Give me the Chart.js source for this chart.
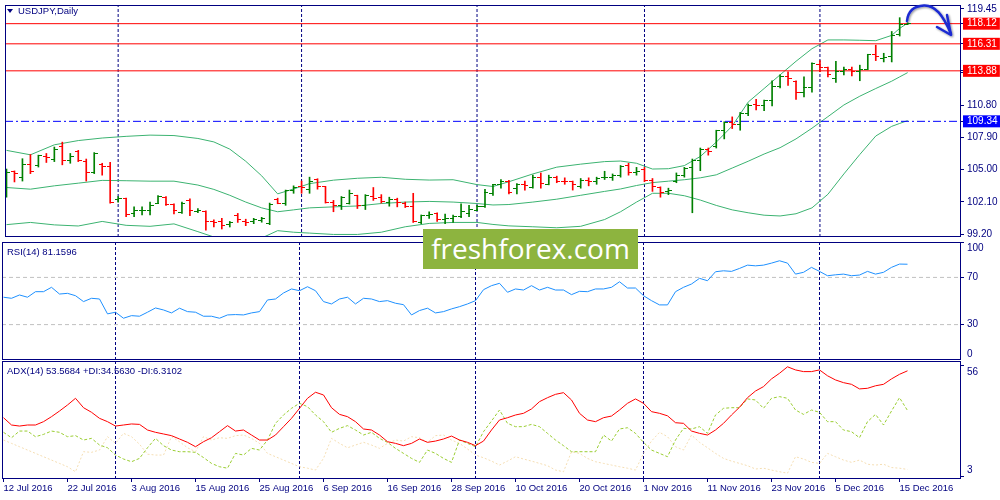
<!DOCTYPE html>
<html>
<head>
<meta charset="utf-8">
<script src="https://cdn.jsdelivr.net/npm/chart.js@4.4.1/dist/chart.umd.min.js"></script>
<style>
html,body{margin:0;padding:0;background:#fff;}
#wrap{position:relative;width:1000px;height:500px;overflow:hidden;background:#fff;}
#wrap canvas{position:absolute;left:0;}
.lbl{position:absolute;font-family:"Liberation Sans",Arial,sans-serif;font-size:9.5px;line-height:11px;color:#000080;white-space:nowrap;}
.tri{display:inline-block;width:0;height:0;border-left:3.5px solid transparent;border-right:3.5px solid transparent;border-top:4px solid #000080;margin-right:5px;vertical-align:1px;}
#logo{position:absolute;left:423px;top:229px;width:215px;height:40px;background:#8db43f;color:#fff;font-family:"Open Sans",sans-serif;font-size:28px;line-height:38px;text-align:center;letter-spacing:0px;}
#arrow{position:absolute;left:0;top:0;pointer-events:none;}
</style>
</head>
<body>
<div id="wrap">
  <canvas id="cMain" width="1000" height="242" style="top:0px"></canvas>
  <canvas id="cRsi" width="1000" height="118" style="top:242px"></canvas>
  <canvas id="cAdx" width="1000" height="140" style="top:360px"></canvas>
  <div class="lbl" style="left:7px;top:5px"><span class="tri"></span>USDJPY,Daily</div>
  <div class="lbl" style="left:7px;top:246px">RSI(14) 81.1596</div>
  <div class="lbl" style="left:7px;top:365px">ADX(14) 53.5684 +DI:34.5630 -DI:6.3102</div>
  <div id="logo">freshforex.com</div>
  <svg id="arrow" width="1000" height="500">
    <defs>
      <filter id="sh" x="-30%" y="-30%" width="160%" height="160%">
        <feGaussianBlur in="SourceAlpha" stdDeviation="1.3"/>
        <feOffset dx="1" dy="1" result="b"/>
        <feComponentTransfer><feFuncA type="linear" slope="0.45"/></feComponentTransfer>
        <feMerge><feMergeNode/><feMergeNode in="SourceGraphic"/></feMerge>
      </filter>
    </defs>
    <g fill="none" stroke="#1b2bd2" stroke-width="2.5" stroke-linecap="round" stroke-linejoin="round" filter="url(#sh)">
      <path d="M907 21 C908 11 914 6 924 5.5 C935 5 943 15 951 34"/>
      <path d="M937 27 L951 35 L947 15"/>
    </g>
  </svg>
</div>
<script>
// ---------------- data ----------------
const dateLabels = ["12 Jul 2016","22 Jul 2016","3 Aug 2016","15 Aug 2016","25 Aug 2016","6 Sep 2016","16 Sep 2016","28 Sep 2016","10 Oct 2016","20 Oct 2016","1 Nov 2016","11 Nov 2016","23 Nov 2016","5 Dec 2016","15 Dec 2016"];
const dateTickBars = [0,8,16,24,32,40,48,56,64,72,80,88,96,104,112];
const monthStartBars = [14,37,59,80,102];

const open = [103.22,104.85,104.26,105.43,105.37,106.16,105.95,107.12,105.86,106.64,
105.77,104.70,105.49,105.29,102.28,102.43,101.06,101.30,101.30,101.99,
102.46,101.85,101.12,102.23,101.27,101.21,100.34,100.34,100.05,100.89,
100.34,100.34,100.42,100.14,102.28,101.93,103.16,103.45,103.24,104.11,
103.45,102.08,101.79,101.93,102.67,101.79,102.58,102.52,102.08,102.28,
101.99,101.71,100.25,100.83,101.06,100.49,100.62,100.77,101.06,101.36,
101.65,102.87,103.68,103.91,103.33,103.63,103.39,104.26,103.68,104.32,
103.91,103.89,103.45,104.03,103.91,104.26,104.26,104.50,105.37,104.70,
104.99,104.03,103.39,103.04,103.91,104.50,105.20,105.86,106.82,107.06,
108.48,109.26,109.06,110.08,110.81,110.72,111.19,112.47,113.34,112.93,
111.97,112.35,114.45,114.15,113.23,113.80,114.01,113.86,114.01,115.37,
114.97,115.17,117.18,118.08];
const high = [105.05,104.88,105.98,106.36,106.30,106.45,107.03,107.47,106.45,106.73,
105.95,106.53,105.57,105.66,102.58,102.45,101.65,101.65,102.08,102.67,
102.58,101.93,102.08,102.37,101.50,101.30,100.49,100.62,100.34,101.06,
100.54,100.62,100.71,101.99,102.43,103.16,103.54,103.97,104.32,104.18,
103.48,102.23,102.58,103.16,102.70,102.75,103.39,102.75,102.52,102.43,
102.08,102.87,100.92,101.21,101.12,101.01,100.92,101.93,101.79,101.79,
103.22,103.68,104.11,104.03,103.74,103.97,104.50,104.70,104.50,104.41,
104.26,103.97,104.20,104.26,104.32,104.85,104.61,105.37,105.57,105.20,
105.20,104.20,103.45,103.33,104.70,105.20,105.95,106.94,106.94,108.54,
109.30,109.74,110.14,110.90,111.31,111.25,112.99,113.52,113.80,112.99,
113.34,114.59,114.80,114.21,114.74,114.21,114.21,114.39,115.37,116.19,
115.46,117.42,118.66,118.20];
const low = [102.52,103.89,103.97,104.64,105.23,105.64,105.72,105.43,105.57,105.72,
103.97,104.64,104.50,101.99,102.08,100.77,100.77,100.92,100.92,101.93,
101.79,101.01,101.06,100.86,101.12,99.55,99.84,99.66,99.84,100.25,
99.96,100.14,100.27,100.05,101.93,101.79,102.87,102.87,102.87,103.24,
101.99,101.21,101.41,101.90,101.50,101.41,102.23,101.99,101.71,101.65,
101.59,100.25,100.14,100.62,100.34,100.14,100.25,100.68,100.77,101.30,
101.59,102.67,103.33,102.81,102.81,103.16,103.33,103.33,103.63,103.82,
103.68,103.16,103.33,103.54,103.68,104.11,104.03,104.32,104.50,104.50,
103.91,103.04,102.52,102.75,103.82,104.32,101.12,104.90,106.30,106.94,
107.76,108.69,108.54,109.85,110.37,110.31,110.72,112.35,112.56,111.31,
111.53,111.97,113.80,113.34,112.84,113.52,113.43,112.99,113.98,114.80,
114.68,114.68,117.01,118.03];
const close = [104.70,104.64,105.46,104.85,106.25,106.12,106.82,105.86,106.16,105.81,
104.70,106.45,105.29,102.05,102.37,100.92,101.36,101.34,101.79,102.58,
101.88,101.30,101.99,101.30,101.36,100.34,100.25,99.96,100.25,100.49,
100.25,100.49,100.57,101.88,101.99,103.10,103.39,103.39,103.97,103.48,
102.08,101.79,102.52,102.81,101.79,102.67,102.43,102.14,102.28,102.02,
101.71,100.34,100.83,100.92,100.49,100.62,100.77,101.21,101.41,101.71,
102.96,103.63,103.97,102.96,103.68,103.54,104.32,103.74,104.32,103.89,
103.89,103.63,104.03,103.91,104.20,104.32,104.50,105.29,104.70,104.85,
104.03,103.45,102.96,103.16,104.50,105.08,105.83,106.82,106.64,108.48,
109.26,109.06,110.08,110.72,110.72,111.19,112.47,113.34,113.23,111.97,
112.35,114.50,114.15,113.52,113.86,114.01,113.80,114.01,115.32,115.17,
115.09,117.07,118.08,118.12];

const bbIdx = [0,3,6,9,12,15,18,21,24,26,28,30,32,34,36,38,41,44,47,50,53,56,59,61,63,66,69,72,75,77,79,81,83,85,87,89,91,93,95,97,99,101,103,105,107,109,111,112,113];
const bbUpper = [106.73,106.33,107.23,107.61,107.84,107.99,108.10,108.06,107.80,107.49,
106.84,105.75,104.44,102.82,103.26,103.74,104.05,104.22,104.31,104.13,
104.06,104.09,103.65,103.48,103.91,104.61,105.22,105.49,105.72,105.77,
105.57,105.05,105.08,105.36,106.18,107.47,108.92,111.07,112.29,113.52,
114.74,115.87,116.66,116.66,116.63,116.59,117.07,117.70,118.17];
const bbMiddle = [103.39,103.24,103.54,103.78,104.03,104.00,103.96,103.96,103.61,103.22,
102.69,102.08,101.56,101.21,101.38,101.56,101.65,101.73,101.95,102.08,
102.14,102.08,101.95,101.82,101.86,102.08,102.34,102.69,103.04,103.26,
103.57,103.83,103.96,104.09,104.26,104.53,105.14,105.75,106.40,106.97,
107.76,108.72,109.76,110.81,111.60,112.29,112.95,113.34,113.72];
const bbLower = [100.05,100.25,100.03,99.93,100.34,99.99,99.90,100.12,99.42,98.94,
98.59,98.50,98.85,99.51,99.37,99.29,99.17,99.17,99.37,99.86,
100.16,100.25,100.25,100.07,99.94,99.86,99.77,99.90,100.51,101.21,
102.08,102.87,102.87,102.65,102.26,101.78,101.38,101.12,100.90,100.83,
101.03,101.56,102.78,104.61,106.36,108.02,108.89,109.15,109.41];

const resistanceLevels = [118.12,116.31,113.88];
const supportLevel = 109.34;
const priceTicks = [119.45,113.70,110.80,107.90,105.00,102.10,99.20];

const rsi = [53.2,52.3,55.1,53.2,57.9,57.9,61.6,55.9,56.5,54.5,
49.5,52.3,51.7,39.1,40.5,35.4,37.6,37.1,40.5,44.1,
42.4,39.9,43.9,41.0,40.5,37.1,37.1,35.4,38.2,38.5,
38.2,39.9,41.0,50.9,51.7,56.8,60.2,58.7,62.1,58.7,
49.5,47.5,51.7,53.2,47.5,52.3,51.7,49.5,50.3,48.1,
46.9,38.2,41.9,43.9,39.9,41.0,43.3,45.2,47.5,50.3,
59.6,63.0,65.0,57.4,60.2,59.3,63.0,59.3,61.6,59.3,
59.3,55.4,58.2,57.9,60.2,60.2,61.6,66.3,61.0,61.0,
54.5,50.3,46.7,46.7,57.9,61.6,64.4,69.2,67.2,74.8,
75.6,75.1,77.6,80.4,79.8,80.4,82.1,84.1,82.1,72.8,
74.3,78.5,75.1,71.4,72.2,72.8,71.4,72.0,75.1,72.8,
74.3,78.5,81.3,81.16];
const rsiLevels = [70,30];
const rsiTicks = [100,70,30,0];

const adx = [31.1,27.6,27.1,27.6,27.6,29.2,31.6,34.3,37.2,40.4,
35.9,33.7,30.8,29.2,27.1,27.6,28.1,27.9,25.2,24.1,
23.3,22.5,20.9,19.3,17.2,19.6,21.5,24.4,27.3,24.7,
25.2,22.8,20.4,20.4,22.8,26.8,30.8,35.6,40.4,43.3,
42.0,35.9,32.7,31.6,29.2,25.7,25.2,22.8,19.6,18.8,
17.7,18.8,20.9,19.3,19.9,20.9,22.3,20.4,19.3,17.7,
19.9,25.2,30.0,31.1,32.4,33.2,35.3,38.8,40.7,42.3,
43.1,39.6,33.2,30.0,29.2,31.1,31.9,34.8,38.0,40.1,
38.0,34.0,33.2,32.0,28.7,28.4,24.7,23.6,22.8,25.2,
28.4,32.4,36.1,40.7,43.9,46.0,49.7,52.4,55.5,54.0,
53.2,53.2,54.0,51.2,49.2,47.9,47.1,44.9,45.2,46.4,
47.1,49.7,51.9,53.57];
const plusDI = [24.1,21.5,24.7,24.7,22.0,23.1,24.7,24.1,22.0,22.5,
20.4,21.2,18.0,16.7,13.2,11.3,10.0,11.6,16.7,21.2,
17.7,15.6,14.8,14.8,14.5,12.0,9.2,7.6,6.9,14.0,
13.2,16.4,15.6,20.4,28.4,32.4,35.6,38.0,36.4,32.4,
29.2,24.1,26.0,27.3,25.2,22.8,24.1,21.2,19.3,16.4,
14.0,11.6,9.7,15.6,14.0,11.6,9.7,20.4,18.8,17.2,
24.4,29.5,34.8,28.4,26.8,26.8,27.9,26.8,23.6,20.4,
17.7,14.8,14.8,14.8,14.8,22.8,19.9,25.7,26.3,23.6,
19.3,15.6,14.0,12.4,20.4,26.0,25.7,26.8,23.6,32.4,
35.6,35.9,35.9,40.1,39.6,35.6,40.4,41.2,40.4,34.8,
32.7,34.8,33.7,29.2,29.2,25.2,24.4,21.5,29.2,32.7,
27.6,34.3,40.7,34.56];
const minusDI = [20.4,18.8,17.2,15.6,14.0,12.4,10.8,9.2,7.6,5.2,
14.8,14.5,15.6,22.0,18.8,23.6,22.0,18.4,13.6,13.2,
13.2,22.0,19.6,16.7,14.8,22.0,20.4,21.5,21.2,22.5,
22.8,21.2,18.8,14.0,12.4,10.8,9.2,7.6,6.9,6.0,
11.6,21.2,18.8,16.7,18.0,19.3,18.0,16.4,18.8,20.4,
19.9,22.0,21.5,19.3,22.5,22.8,20.4,18.8,16.1,13.2,
11.9,10.3,8.4,10.3,12.4,11.3,10.3,9.2,8.1,6.0,
5.2,14.8,14.0,11.6,10.0,9.2,8.4,7.6,6.9,6.0,
14.0,19.9,24.1,22.0,17.2,15.6,22.8,19.3,16.7,14.0,
11.6,10.3,9.2,8.1,6.5,6.9,6.0,5.2,4.5,12.4,
11.3,9.7,9.2,14.0,12.4,10.8,9.7,10.8,8.8,8.4,
8.8,7.2,6.9,6.31];
const adxTicks = [56,3];

// ---------------- styling ----------------
const NAVY = '#000080', UP = '#008000', DN = '#ff0000';
const X_MIN = -0.1875, X_MAX = 119.6875;
const P_MIN = 98.94, P_MAX = 119.80;
const A_MIN = 1.72, A_MAX = 58.28;
const FONT = '"Liberation Sans", Arial, sans-serif';
Chart.defaults.font.family = FONT;
Chart.defaults.color = NAVY;

function tickImg(color, side) {
  const c = document.createElement('canvas');
  c.width = 7; c.height = 1;
  const g = c.getContext('2d');
  g.fillStyle = color;
  if (side === 'open') g.fillRect(0, 0, 4, 1); else g.fillRect(3, 0, 4, 1);
  return c;
}
const IMG = {
  openUp: tickImg(UP, 'open'), openDn: tickImg(DN, 'open'),
  closeUp: tickImg(UP, 'close'), closeDn: tickImg(DN, 'close')
};
const isUp = i => close[i] >= open[i];

const framePlugin = {
  id: 'frame',
  afterDraw(chart) {
    const a = chart.chartArea, c = chart.ctx;
    c.save(); c.strokeStyle = NAVY; c.lineWidth = 1; c.setLineDash([]);
    c.strokeRect(a.left + 0.5, a.top + 0.5, a.right - a.left - 1, a.bottom - a.top - 1);
    c.restore();
  }
};
const crispPlugin = { id: 'crisp', beforeDatasetsDraw(chart) { chart.ctx.imageSmoothingEnabled = false; } };

function yFit(s) { s.width = 39; s.paddingTop = 0; s.paddingBottom = 0; }
function xFit(s) { s.height = 21; s.paddingLeft = 0; s.paddingRight = 0; }

function xScale(show) {
  const o = { type: 'linear', min: X_MIN, max: X_MAX, offset: false, display: show,
    grid: { display: show, drawOnChartArea: false, drawTicks: true, tickLength: 3, color: NAVY, offset: false },
    border: { display: false } };
  if (show) {
    o.afterBuildTicks = s => { s.ticks = dateTickBars.map(v => ({ value: v })); };
    o.afterFit = xFit;
    o.ticks = { autoSkip: false, maxRotation: 0, minRotation: 0, align: 'start', padding: 1, color: NAVY,
      font: { size: 9.5, family: FONT }, callback: (v, i) => dateLabels[i] };
  }
  return o;
}

function sepData(lo, hi) {
  const d = [];
  monthStartBars.forEach(m => { d.push({ x: m, y: lo }, { x: m, y: hi }, { x: m, y: null }); });
  return d;
}
function sepDataset(lo, hi) {
  return { type: 'line', label: 'Month', data: sepData(lo, hi), borderColor: NAVY, borderWidth: 1,
    borderDash: [3, 2], pointRadius: 0, spanGaps: false, tension: 0 };
}
function hLine(v, color, dash, label) {
  return { type: 'line', label, data: [{ x: X_MIN, y: v }, { x: X_MAX, y: v }], borderColor: color,
    borderWidth: 1, borderDash: dash, pointRadius: 0, tension: 0 };
}
function series(xs, ys, color, dash, label, w) {
  return { type: 'line', label, data: ys.map((v, k) => ({ x: xs ? xs[k] : k, y: v })), borderColor: color,
    borderWidth: w || 1, borderDash: dash, pointRadius: 0, tension: 0, fill: false };
}

const common = {
  responsive: false, maintainAspectRatio: false, animation: false, events: [], devicePixelRatio: 1,
  plugins: { legend: { display: false }, tooltip: { enabled: false } }
};

// ---------------- main price chart ----------------
const levelTickSet = resistanceLevels.concat([supportLevel]);
const levelColor = v => (v === supportLevel ? '#0000ff' : '#ff0000');
new Chart(document.getElementById('cMain'), {
  type: 'line',
  data: {
    datasets: [
      { type: 'line', label: 'Open', data: open.map((v, i) => ({ x: i, y: v })), showLine: false,
        pointRadius: 1, pointStyle: c => (isUp(c.dataIndex) ? IMG.openUp : IMG.openDn) },
      { type: 'line', label: 'Close', data: close.map((v, i) => ({ x: i, y: v })), showLine: false,
        pointRadius: 1, pointStyle: c => (isUp(c.dataIndex) ? IMG.closeUp : IMG.closeDn) },
      { type: 'bar', label: 'High-Low', data: low.map((v, i) => ({ x: i, y: [v, high[i]] })),
        backgroundColor: c => (isUp(c.dataIndex) ? UP : DN), barThickness: 1, borderWidth: 0 },
      ...resistanceLevels.map(v => hLine(v, '#ff0000', [], 'Resistance')),
      hLine(supportLevel, '#0000ff', [8, 3, 2, 3], 'Support'),
      series(bbIdx, bbUpper, '#3cb371', [], 'BB upper'),
      series(bbIdx, bbMiddle, '#3cb371', [], 'BB middle'),
      series(bbIdx, bbLower, '#3cb371', [], 'BB lower'),
      sepDataset(P_MIN, P_MAX)
    ]
  },
  options: Object.assign({}, common, {
    layout: { padding: { left: 2, top: 2, right: 0, bottom: 1 } },
    scales: {
      x: xScale(false),
      y: {
        type: 'linear', position: 'right', min: P_MIN, max: P_MAX,
        afterFit: yFit,
        afterBuildTicks: s => { s.ticks = priceTicks.concat(levelTickSet).map(v => ({ value: v })); },
        grid: { drawOnChartArea: false, drawTicks: true, tickLength: 3, color: NAVY },
        border: { display: false },
        ticks: {
          autoSkip: false, padding: 3, font: { size: 10, family: FONT },
          color: c => (levelTickSet.includes(c.tick.value) ? '#ffffff' : NAVY),
          showLabelBackdrop: c => levelTickSet.includes(c.tick.value),
          backdropColor: c => levelColor(c.tick.value),
          backdropPadding: { left: 4, right: 3, top: 0, bottom: 0 },
          callback: v => Number(v).toFixed(2)
        }
      }
    }
  }),
  plugins: [framePlugin, crispPlugin]
});

// ---------------- RSI ----------------
new Chart(document.getElementById('cRsi'), {
  type: 'line',
  data: {
    datasets: [
      series(null, rsi, '#1e90ff', [], 'RSI(14)'),
      ...rsiLevels.map(v => hLine(v, '#c0c0c0', [4, 3], 'RSI level')),
      sepDataset(0, 100)
    ]
  },
  options: Object.assign({}, common, {
    layout: { padding: { left: 2, top: 0, right: 0, bottom: 0 } },
    scales: {
      x: xScale(false),
      y: {
        type: 'linear', position: 'right', min: 0, max: 100,
        afterFit: yFit,
        afterBuildTicks: s => { s.ticks = rsiTicks.map(v => ({ value: v })); },
        grid: { drawOnChartArea: false, drawTicks: true, tickLength: 3, color: NAVY },
        border: { display: false },
        ticks: {
          autoSkip: false, padding: 3, font: { size: 10, family: FONT }, color: NAVY,
          callback: v => (v === 100 ? ['', '100'] : v === 0 ? ['0', ''] : String(v))
        }
      }
    }
  }),
  plugins: [framePlugin]
});

// ---------------- ADX ----------------
new Chart(document.getElementById('cAdx'), {
  type: 'line',
  data: {
    datasets: [
      series(null, adx, '#ff0000', [], 'ADX'),
      series(null, plusDI, '#9acd32', [3, 2], '+DI'),
      series(null, minusDI, '#f5deb3', [2, 2], '-DI'),
      sepDataset(A_MIN, A_MAX)
    ]
  },
  options: Object.assign({}, common, {
    layout: { padding: { left: 2, top: 1, right: 0, bottom: 0 } },
    scales: {
      x: xScale(true),
      y: {
        type: 'linear', position: 'right', min: A_MIN, max: A_MAX,
        afterFit: yFit,
        afterBuildTicks: s => { s.ticks = adxTicks.map(v => ({ value: v })); },
        grid: { drawOnChartArea: false, drawTicks: true, tickLength: 3, color: NAVY },
        border: { display: false },
        ticks: {
          autoSkip: false, padding: 3, font: { size: 10, family: FONT }, color: NAVY,
          callback: v => (v === 56 ? ['', '56'] : v === 3 ? ['3', ''] : String(v))
        }
      }
    }
  }),
  plugins: [framePlugin]
});
</script>
</body>
</html>
